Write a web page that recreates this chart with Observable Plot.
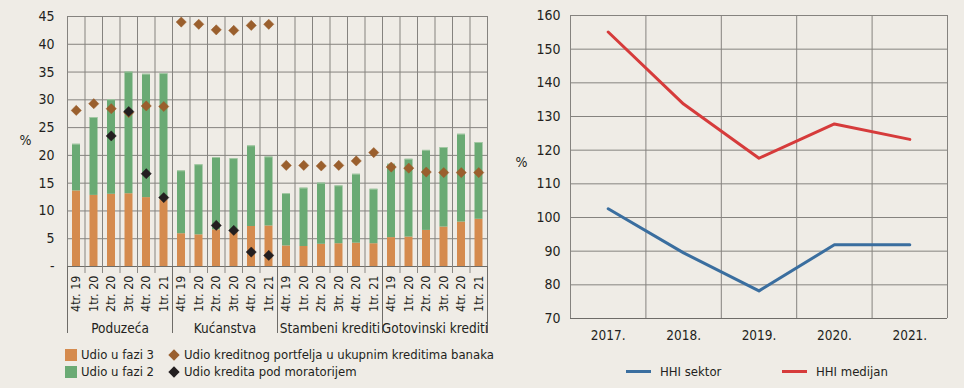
<!DOCTYPE html>
<html>
<head>
<meta charset="utf-8">
<script src="https://cdn.jsdelivr.net/npm/d3@7"></script>
<script src="https://cdn.jsdelivr.net/npm/@observablehq/plot@0.6"></script>
<style>
  html, body { margin: 0; padding: 0; background: #efece6; }
  #wrap { position: relative; width: 964px; height: 388px; background: #efece6; overflow: hidden;
          font-family: "DejaVu Sans Condensed", "DejaVu Sans", sans-serif; font-stretch: condensed; color: #231f20; }
  #left { position: absolute; left: 0; top: 0; }
  #right { position: absolute; left: 490px; top: 0; }
  .leg { position: absolute; font-size: 13px; line-height: 17px; white-space: nowrap; display: flex; align-items: center; }
  .sq { display: inline-block; width: 12px; height: 12px; margin-right: 4px; }
  .dm { display: inline-block; width: 8px; height: 8px; transform: rotate(45deg); margin: 0 6px 0 2px; }
  .ln { display: inline-block; width: 25px; height: 3px; margin-right: 9px; }
</style>
</head>
<body>
<div id="wrap">
  <div id="left"></div>
  <div id="right"></div>
  <div class="leg" style="left:65px; top:346px;"><span class="sq" style="background:#d58b4e"></span>Udio u fazi 3</div>
  <div class="leg" style="left:65px; top:363px;"><span class="sq" style="background:#6aaa74"></span>Udio u fazi 2</div>
  <div class="leg" style="left:168px; top:346px;"><span class="dm" style="background:#9a5f2d"></span>Udio kreditnog portfelja u ukupnim kreditima banaka</div>
  <div class="leg" style="left:168px; top:363px;"><span class="dm" style="background:#231f20"></span>Udio kredita pod moratorijem</div>
  <div class="leg" style="left:626px; top:363px;"><span class="ln" style="background:#3a6e9f"></span>HHI sektor</div>
  <div class="leg" style="left:782px; top:363px;"><span class="ln" style="background:#d63b3b"></span>HHI medijan</div>
</div>
<script>
// ---------- Left chart data ----------
const groups = ["Poduzeća", "Kućanstva", "Stambeni krediti", "Gotovinski krediti"];
const periods = ["4tr. 19", "1tr. 20", "2tr. 20", "3tr. 20", "4tr. 20", "1tr. 21"];
// share in stage 3 (%)
const faza3 = [
  13.6, 12.8, 13.0, 13.1, 12.4, 12.0,
  5.9, 5.7, 6.6, 6.2, 7.2, 7.3,
  3.7, 3.6, 4.0, 4.1, 4.2, 4.1,
  5.2, 5.3, 6.5, 7.1, 8.0, 8.5
];
// share in stage 2 (%)
const faza2 = [
  8.4, 14.0, 17.0, 21.9, 22.2, 22.7,
  11.3, 12.6, 13.0, 13.2, 14.5, 12.4,
  9.4, 10.5, 11.0, 10.4, 12.4, 9.8,
  13.2, 14.0, 14.4, 14.3, 15.8, 13.8
];
// share of loan portfolio in total bank loans (%)
const portfelj = [
  28.1, 29.3, 28.4, 27.7, 28.9, 28.8,
  44.0, 43.6, 42.6, 42.5, 43.4, 43.6,
  18.2, 18.2, 18.1, 18.2, 19.0, 20.5,
  17.9, 17.7, 17.0, 16.9, 16.9, 16.9
];
// share of loans under moratorium (%)
const moratorij = [
  null, null, 23.5, 27.9, 16.7, 12.4,
  null, null, 7.4, 6.5, 2.6, 2.0,
  null, null, null, null, null, null,
  null, null, null, null, null, null
];
const yTicksLeft = [0, 5, 10, 15, 20, 25, 30, 35, 40, 45];

// ---------- Right chart data ----------
const years = [2017, 2018, 2019, 2020, 2021];
const hhiSektor = [102.6, 89.5, 78.2, 91.9, 91.9];
const hhiMedijan = [155.1, 133.7, 117.6, 127.8, 123.2];
const yTicksRight = [70, 80, 90, 100, 110, 120, 130, 140, 150, 160];

const FONT = '"DejaVu Sans Condensed", "DejaVu Sans", sans-serif';
const GRID = "#85837f";

// build rows
const rows = [];
groups.forEach((g, gi) => periods.forEach((p, pi) => {
  const i = gi * periods.length + pi;
  rows.push({i, group: g, period: p, f3: faza3[i], f2: faza2[i], total: faza3[i] + faza2[i],
             port: portfelj[i], mor: moratorij[i]});
}));
const groupRows = groups.map((g, gi) => ({g, c: gi * periods.length + periods.length / 2}));
const bounds = d3.range(0, rows.length + 1);
const groupBounds = d3.range(0, rows.length + 1, periods.length);

const left = Plot.plot({
  width: 495, height: 340,
  marginLeft: 67, marginRight: 8, marginTop: 16, marginBottom: 74,
  style: {background: "transparent", fontFamily: FONT, fontSize: "13px", color: "#231f20", fontStretch: "condensed"},
  x: {domain: [0, rows.length], axis: null},
  y: {domain: [0, 45], axis: null},
  marks: [
    Plot.gridY(yTicksLeft, {stroke: GRID, strokeOpacity: 1, strokeWidth: 1}),
    Plot.gridX(bounds, {stroke: GRID, strokeOpacity: 1, strokeWidth: 1}),
    Plot.rectY(rows, {x1: "i", x2: d => d.i + 1, y1: 0, y2: "f3", fill: "#d58b4e", insetLeft: 5, insetRight: 4.5}),
    Plot.rectY(rows, {x1: "i", x2: d => d.i + 1, y1: "f3", y2: "total", fill: "#6aaa74", insetLeft: 5, insetRight: 4.5}),
    Plot.rectY(rows, {x1: "i", x2: d => d.i + 1, y1: d => d.total - 0.15, y2: "total", fill: "#a9cda9", insetLeft: 5, insetRight: 4.5}),
    Plot.ruleY([0], {stroke: "#6e6c68", strokeWidth: 1.2}),
    Plot.axisX(bounds, {anchor: "bottom", label: null, tickSize: 7, tickFormat: () => "", stroke: "#8a8884"}),
    Plot.axisX(groupBounds, {anchor: "bottom", label: null, tickSize: 67, tickFormat: () => "", stroke: "#6e6c68"}),
    Plot.dot(rows, {x: d => d.i + 0.5, y: "port", symbol: "diamond2", r: 4.6, fill: "#9a5f2d", stroke: "#9a5f2d", strokeWidth: 0.5}),
    Plot.dot(rows.filter(d => d.mor != null), {x: d => d.i + 0.5, y: "mor", symbol: "diamond2", r: 4.6, fill: "#231f20", stroke: "#231f20", strokeWidth: 0.5}),
    Plot.text(rows, {x: d => d.i + 0.5, y: 0, text: "period", rotate: -90, textAnchor: "end", dy: 9, fontSize: 12.5, fill: "#231f20"}),
    Plot.text(groupRows, {x: "c", y: 0, text: "g", dy: 62, fontSize: 13.5, fill: "#231f20"}),
    Plot.axisY(yTicksLeft, {anchor: "left", label: null, tickSize: 0, tickPadding: 13, fontSize: 14, tickFormat: d => d === 0 ? "-" : d}),
    Plot.text(["%"], {frameAnchor: "left", textAnchor: "middle", dx: -42, dy: -1, fontSize: 14, fill: "#231f20"})
  ]
});
document.getElementById("left").appendChild(left);

const lineRows = [];
years.forEach((y, k) => {
  lineRows.push({year: y, v: hhiSektor[k], s: "HHI sektor"});
  lineRows.push({year: y, v: hhiMedijan[k], s: "HHI medijan"});
});

const right = Plot.plot({
  width: 474, height: 345,
  marginLeft: 80, marginRight: 17, marginTop: 15, marginBottom: 27,
  style: {background: "transparent", fontFamily: FONT, fontSize: "14px", color: "#231f20", fontStretch: "condensed"},
  x: {domain: [2016.5, 2021.5], axis: null},
  y: {domain: [70, 160], axis: null},
  color: {domain: ["HHI sektor", "HHI medijan"], range: ["#3a6e9f", "#d63b3b"]},
  marks: [
    Plot.gridY(yTicksRight, {stroke: GRID, strokeOpacity: 1}),
    Plot.gridX(d3.range(2016.5, 2022, 1), {stroke: GRID, strokeOpacity: 1}),
    Plot.ruleY([70], {stroke: "#6e6c68", strokeWidth: 1.2}),
    Plot.line(lineRows, {x: "year", y: "v", z: "s", stroke: "s", strokeWidth: 3}),
    Plot.axisX(years, {anchor: "bottom", label: null, tickSize: 0, tickPadding: 12, tickFormat: d => d + ".", fontSize: 13.5}),
    Plot.axisY(yTicksRight, {anchor: "left", label: null, tickSize: 0, tickPadding: 10, fontSize: 14}),
    Plot.text(["%"], {frameAnchor: "left", textAnchor: "middle", dx: -49, dy: -4, fontSize: 14, fill: "#231f20"})
  ]
});
document.getElementById("right").appendChild(right);
</script>
</body>
</html>
